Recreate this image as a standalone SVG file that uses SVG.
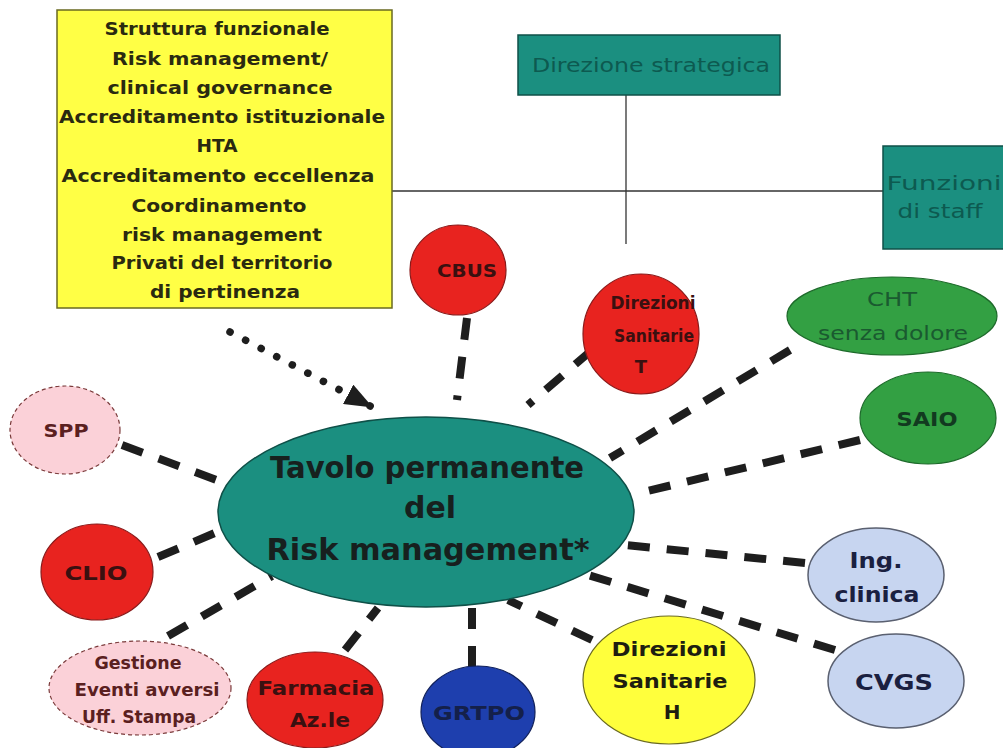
<svg xmlns="http://www.w3.org/2000/svg" width="1003" height="748" viewBox="0 0 1003 748">
<defs>
<style>
.t{font-family:"DejaVu Sans","Liberation Sans",Arial,sans-serif;text-anchor:middle}
.b{font-weight:bold}
.dash{fill:none;stroke:#1e1e1e;stroke-width:8;stroke-dasharray:22 17}
.thin{fill:none;stroke:#333;stroke-width:1.3}
.red{fill:#e8231f;stroke:#8a1a1a;stroke-width:1.2}
.grn{fill:#33a043;stroke:#1d6a2a;stroke-width:1.2}
.pink{fill:#fbd1d8;stroke:#7a3a3a;stroke-width:1.2;stroke-dasharray:4 3}
.lblue{fill:#c7d5f0;stroke:#5a6070;stroke-width:1.5}
.teal{fill:#1b8f80;stroke:#0f5048;stroke-width:1.5}
</style>
<marker id="ah" markerWidth="28" markerHeight="22" refX="27" refY="11" orient="auto" markerUnits="userSpaceOnUse">
<path d="M0,0 L28,11 L0,22 Z" fill="#1e1e1e"/>
</marker>
</defs>
<rect width="1003" height="748" fill="#ffffff"/>
<g id="connectors">
<line class="thin" x1="392" y1="191" x2="883" y2="191"/>
<line class="thin" x1="626" y1="95" x2="626" y2="244"/>
<line x1="230" y1="332" x2="372" y2="407" stroke="#1e1e1e" stroke-width="7.5" stroke-linecap="round" stroke-dasharray="0.1 17.5" marker-end="url(#ah)"/>
<line class="dash" x1="467" y1="318" x2="457" y2="400"/>
<line class="dash" x1="592" y1="350" x2="528" y2="405"/>
<line class="dash" x1="790" y1="350" x2="610" y2="458"/>
<line class="dash" x1="860" y1="440" x2="635" y2="494"/>
<line class="dash" x1="122" y1="445" x2="222" y2="482"/>
<line class="dash" x1="158" y1="557" x2="222" y2="530"/>
<line class="dash" x1="168" y1="636" x2="272" y2="576"/>
<line class="dash" x1="345" y1="650" x2="378" y2="608"/>
<line class="dash" x1="472" y1="668" x2="472" y2="608"/>
<line class="dash" x1="592" y1="640" x2="508" y2="600"/>
<line class="dash" x1="805" y1="563" x2="625" y2="545"/>
<line class="dash" x1="835" y1="650" x2="588" y2="575"/>
</g>
<g id="yellow-box">
<rect x="57" y="10" width="335" height="298" fill="#ffff45" stroke="#6a6a20" stroke-width="1.5"/>
<g class="t b" font-size="18" fill="#2a2a10" lengthAdjust="spacingAndGlyphs">
<text x="217" y="35" textLength="225" lengthAdjust="spacingAndGlyphs">Struttura funzionale</text>
<text x="220" y="65" textLength="216" lengthAdjust="spacingAndGlyphs">Risk management/</text>
<text x="220" y="94" textLength="225" lengthAdjust="spacingAndGlyphs">clinical governance</text>
<text x="222" y="123" textLength="326" lengthAdjust="spacingAndGlyphs">Accreditamento istituzionale</text>
<text x="217" y="152" textLength="41" lengthAdjust="spacingAndGlyphs">HTA</text>
<text x="218" y="182" textLength="313" lengthAdjust="spacingAndGlyphs">Accreditamento eccellenza</text>
<text x="219" y="212" textLength="175" lengthAdjust="spacingAndGlyphs">Coordinamento</text>
<text x="222" y="241" textLength="200" lengthAdjust="spacingAndGlyphs">risk management</text>
<text x="222" y="269" textLength="221" lengthAdjust="spacingAndGlyphs">Privati del territorio</text>
<text x="225" y="298" textLength="150" lengthAdjust="spacingAndGlyphs">di pertinenza</text>
</g>
</g>
<g id="direzione-strategica">
<rect class="teal" x="518" y="35" width="262" height="60"/>
<text class="t" x="651" y="72" font-size="20" fill="#0d5a50" textLength="238" lengthAdjust="spacingAndGlyphs">Direzione strategica</text>
</g>
<g id="funzioni-staff">
<rect class="teal" x="883" y="146" width="130" height="103"/>
<text class="t" x="944" y="190" font-size="20" fill="#0d5a50" textLength="115" lengthAdjust="spacingAndGlyphs">Funzioni</text>
<text class="t" x="940" y="218" font-size="20" fill="#0d5a50" textLength="85" lengthAdjust="spacingAndGlyphs">di staff</text>
</g>
<g id="tavolo">
<ellipse class="teal" cx="426" cy="512" rx="208" ry="95"/>
<g class="t b" font-size="30" fill="#17201e">
<text x="427" y="478" textLength="314" lengthAdjust="spacingAndGlyphs">Tavolo permanente</text>
<text x="430" y="518" textLength="52" lengthAdjust="spacingAndGlyphs">del</text>
<text x="428" y="560" textLength="323" lengthAdjust="spacingAndGlyphs">Risk management*</text>
</g>
</g>
<g id="cbus">
<ellipse class="red" cx="458" cy="270" rx="48" ry="45"/>
<text class="t b" x="467" y="277" font-size="18" fill="#3a1010" textLength="60" lengthAdjust="spacingAndGlyphs">CBUS</text>
</g>
<g id="direzioni-sanitarie-t">
<ellipse class="red" cx="641" cy="334" rx="58" ry="60"/>
<g class="t b" font-size="18" fill="#3a1010">
<text x="653" y="309" textLength="85" lengthAdjust="spacingAndGlyphs">Direzioni</text>
<text x="654" y="342" textLength="80" lengthAdjust="spacingAndGlyphs">Sanitarie</text>
<text x="641" y="373">T</text>
</g>
</g>
<g id="cht">
<ellipse class="grn" cx="892" cy="316" rx="105" ry="39"/>
<text class="t" x="892" y="306" font-size="20" fill="#1a5a30" textLength="50" lengthAdjust="spacingAndGlyphs">CHT</text>
<text class="t" x="893" y="340" font-size="20" fill="#1a5a30" textLength="150" lengthAdjust="spacingAndGlyphs">senza dolore</text>
</g>
<g id="saio">
<ellipse class="grn" cx="928" cy="418" rx="68" ry="46"/>
<text class="t b" x="927" y="426" font-size="19" fill="#123a20" textLength="61" lengthAdjust="spacingAndGlyphs">SAIO</text>
</g>
<g id="spp">
<ellipse class="pink" cx="65" cy="430" rx="55" ry="44"/>
<text class="t b" x="66" y="437" font-size="17" fill="#5a2020" textLength="45" lengthAdjust="spacingAndGlyphs">SPP</text>
</g>
<g id="clio">
<ellipse class="red" cx="97" cy="572" rx="56" ry="48"/>
<text class="t b" x="96" y="580" font-size="19" fill="#3a1010" textLength="63" lengthAdjust="spacingAndGlyphs">CLIO</text>
</g>
<g id="gestione">
<ellipse class="pink" cx="140" cy="688" rx="91" ry="47"/>
<g class="t b" font-size="17" fill="#5a2020">
<text x="138" y="669" textLength="87" lengthAdjust="spacingAndGlyphs">Gestione</text>
<text x="147" y="696" textLength="145" lengthAdjust="spacingAndGlyphs">Eventi avversi</text>
<text x="139" y="723" textLength="114" lengthAdjust="spacingAndGlyphs">Uff. Stampa</text>
</g>
</g>
<g id="farmacia">
<ellipse class="red" cx="315" cy="700" rx="68" ry="48"/>
<text class="t b" x="316" y="695" font-size="19" fill="#3a1010" textLength="117" lengthAdjust="spacingAndGlyphs">Farmacia</text>
<text class="t b" x="320" y="727" font-size="19" fill="#3a1010" textLength="60" lengthAdjust="spacingAndGlyphs">Az.le</text>
</g>
<g id="grtpo">
<ellipse cx="478" cy="712" rx="57" ry="46" fill="#1e3fae" stroke="#10205a" stroke-width="1.2"/>
<text class="t b" x="479" y="720" font-size="19" fill="#14204a" textLength="92" lengthAdjust="spacingAndGlyphs">GRTPO</text>
</g>
<g id="direzioni-sanitarie-h">
<ellipse cx="669" cy="680" rx="86" ry="64" fill="#ffff3c" stroke="#6a6a20" stroke-width="1.2"/>
<g class="t b" font-size="20" fill="#1e1e10">
<text x="669" y="656" textLength="115" lengthAdjust="spacingAndGlyphs">Direzioni</text>
<text x="670" y="688" textLength="115" lengthAdjust="spacingAndGlyphs">Sanitarie</text>
<text x="672" y="719">H</text>
</g>
</g>
<g id="ing-clinica">
<ellipse class="lblue" cx="876" cy="575" rx="68" ry="47"/>
<text class="t b" x="876" y="568" font-size="21" fill="#1a2040" textLength="53" lengthAdjust="spacingAndGlyphs">Ing.</text>
<text class="t b" x="877" y="602" font-size="21" fill="#1a2040" textLength="85" lengthAdjust="spacingAndGlyphs">clinica</text>
</g>
<g id="cvgs">
<ellipse class="lblue" cx="896" cy="681" rx="68" ry="47"/>
<text class="t b" x="894" y="690" font-size="21" fill="#1a2040" textLength="78" lengthAdjust="spacingAndGlyphs">CVGS</text>
</g>
</svg>
